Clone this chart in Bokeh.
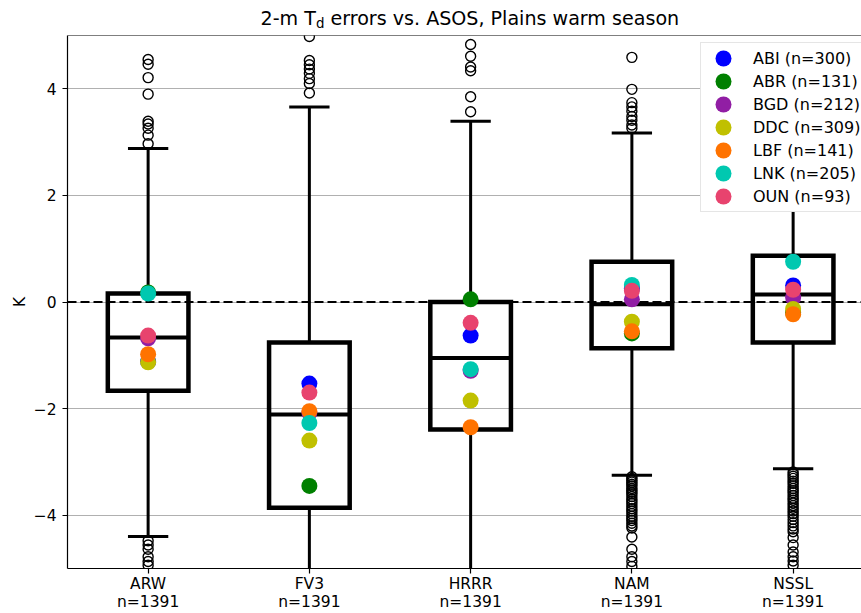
import numpy as np
from bokeh.plotting import figure
from bokeh.layouts import column
from bokeh.models import FixedTicker, Span, Range1d
from bokeh.core.properties import value
from bokeh.embed import file_html
from bokeh.resources import INLINE

# ---------------- data ----------------
models = ["ARW", "FV3", "HRRR", "NAM", "NSSL"]
model_n = [1391, 1391, 1391, 1391, 1391]

q1 = [-1.665, -3.86, -2.39, -0.87, -0.76]
median = [-0.665, -2.11, -1.05, -0.04, 0.14]
q3 = [0.16, -0.76, 0.0, 0.755, 0.87]
whisker_low = [-4.40, -5.9, -5.9, -3.25, -3.13]
whisker_high = [2.88, 3.66, 3.39, 3.17, 3.30]

outliers_arw = [4.55, 4.46, 4.21, 3.90, 3.39, 3.34, 3.26, 3.13, 2.97,
                -4.48, -4.56, -4.64, -4.78, -4.87, -4.94]
outliers_fv3 = [4.98, 4.53, 4.45, 4.37, 4.29, 4.19, 4.10, 3.92]
outliers_hrrr = [4.83, 4.61, 4.41, 4.34, 3.85, 3.57]
outliers_nam = [4.59, 3.99, 3.74, 3.66, 3.58, 3.48, 3.41, 3.32, 3.26,
                -3.28, -3.31, -3.35, -3.38, -3.42, -3.45, -3.50, -3.53, -3.57,
                -3.60, -3.65, -3.70, -3.74, -3.78, -3.83, -3.88, -3.92, -3.97,
                -4.02, -4.06, -4.10, -4.15, -4.20, -4.24, -4.41, -4.64, -4.78,
                -4.87, -4.96]
outliers_nssl = [3.60, 4.10,
                 -3.19, -3.23, -3.27, -3.31, -3.36, -3.40, -3.45, -3.50, -3.54,
                 -3.58, -3.63, -3.68, -3.72, -3.77, -3.82, -3.87, -3.92, -3.97,
                 -4.02, -4.08, -4.14, -4.20, -4.26, -4.31, -4.42, -4.56, -4.69,
                 -4.78, -4.86, -4.94]

stations = ["ABI", "ABR", "BGD", "DDC", "LBF", "LNK", "OUN"]
station_n = [300, 131, 212, 309, 141, 205, 93]
station_colors = ["#0000ff", "#008000", "#911ea4", "#c0c000",
                  "#ff7300", "#00c8b0", "#e8436e"]
abi_mean = [-1.12, -1.53, -0.63, 0.25, 0.31]
abr_mean = [0.18, -3.45, 0.05, -0.59, -0.20]
bgd_mean = [-0.68, -2.08, -1.29, 0.05, 0.08]
ddc_mean = [-1.13, -2.60, -1.85, -0.37, -0.13]
lbf_mean = [-0.98, -2.05, -2.35, -0.55, -0.23]
lnk_mean = [0.16, -2.27, -1.26, 0.32, 0.755]
oun_mean = [-0.63, -1.70, -0.39, 0.21, 0.23]
station_means = [abi_mean, abr_mean, bgd_mean, ddc_mean, lbf_mean, lnk_mean, oun_mean]

y_ticks = [-4, -2, 0, 2, 4]
y_tick_labels = ["\u22124", "\u22122", "0", "2", "4"]

title_main = "2-m T"
title_sub = "d"
title_rest = "errors vs. ASOS, Plains warm season"

FONT = "DejaVu Sans"

# ---------------- title strip (frame is aligned with main frame: 67..861) ----
head = figure(width=861, height=35, output_backend="svg", toolbar_location=None,
              x_range=Range1d(67, 861), y_range=Range1d(0, 35),
              x_axis_location=None, y_axis_location=None,
              min_border=0, title=None)
head.outline_line_color = None
head.grid.visible = False
head.text(x=[260], y=[17], text=[title_main], text_font=value(FONT),
          text_font_size="19.1px", text_color="black", text_baseline="alphabetic")
head.text(x=[315.5], y=[12.5], text=[title_sub], text_font=value(FONT),
          text_font_size="13.4px", text_color="black", text_baseline="alphabetic")
head.text(x=[330], y=[17], text=[title_rest], text_font=value(FONT),
          text_font_size="19.1px", text_color="black", text_baseline="alphabetic")

# ---------------- main figure ----------------
p = figure(width=861, height=578, output_backend="svg", toolbar_location=None,
           x_range=Range1d(0.5, 5.424), y_range=Range1d(-5, 5),
           min_border_left=67, min_border_right=0, min_border_top=0,
           min_border_bottom=45, title=None)
p.outline_line_color = None
p.background_fill_color = "white"
p.border_fill_color = "white"

xpos = np.arange(1, len(models) + 1, dtype=float)

p.xaxis.ticker = FixedTicker(ticks=list(xpos))
p.xaxis.major_label_overrides = {float(x): f"{m}\nn={n}" for x, m, n in zip(xpos, models, model_n)}
p.yaxis.ticker = FixedTicker(ticks=y_ticks)
p.yaxis.major_label_overrides = {t: s for t, s in zip(y_ticks, y_tick_labels)}
for ax in (p.xaxis, p.yaxis):
    ax.axis_line_color = "black"
    ax.axis_line_width = 1.2
    ax.major_tick_line_color = "black"
    ax.major_tick_line_width = 1.2
    ax.major_tick_out = 5
    ax.major_tick_in = 0
    ax.minor_tick_line_color = None
    ax.major_label_text_font = FONT
    ax.major_label_text_font_size = "15.5px"
    ax.major_label_text_color = "black"
p.xaxis.major_label_standoff = 1
p.xaxis.major_label_text_line_height = 1.0
p.yaxis.major_label_standoff = 6
p.yaxis.axis_label = "K"
p.yaxis.axis_label_text_font = FONT
p.yaxis.axis_label_text_font_size = "15.5px"
p.yaxis.axis_label_text_font_style = "normal"
p.yaxis.axis_label_text_color = "black"
p.yaxis.axis_label_standoff = 2

p.xgrid.visible = False
p.ygrid.ticker = FixedTicker(ticks=y_ticks)
p.ygrid.grid_line_color = "#b0b0b0"
p.ygrid.grid_line_width = 1.2

p.add_layout(Span(location=0, dimension="width", line_color="black",
                  line_width=2.2, line_dash="9 4", level="underlay"))
p.add_layout(Span(location=5, dimension="width", line_color="black",
                  line_width=1.2, level="overlay"))

box_half = 0.25
cap_half = 0.125
p.segment(xpos, q3, xpos, whisker_high, line_color="black", line_width=3)
p.segment(xpos, q1, xpos, whisker_low, line_color="black", line_width=3)
p.segment(xpos - cap_half, whisker_high, xpos + cap_half, whisker_high,
          line_color="black", line_width=3)
p.segment(xpos - cap_half, whisker_low, xpos + cap_half, whisker_low,
          line_color="black", line_width=3)
p.quad(left=xpos - box_half, right=xpos + box_half, bottom=q1, top=q3,
       fill_color=None, line_color="black", line_width=4.5, line_join="miter")
p.segment(xpos - box_half, median, xpos + box_half, median,
          line_color="black", line_width=4)

all_out = [outliers_arw, outliers_fv3, outliers_hrrr, outliers_nam, outliers_nssl]
fx, fy = [], []
for x, outs in zip(xpos, all_out):
    fx += [x] * len(outs)
    fy += outs
p.scatter(fx, fy, marker="circle", size=10, fill_color=None,
          line_color="black", line_width=1.4)

for st, n, col, vals in zip(stations, station_n, station_colors, station_means):
    p.ellipse(x=xpos, y=vals, width=16, height=16, width_units="screen",
              height_units="screen", fill_color=col, line_color=None,
              legend_label=f"{st} (n={n})")

lg = p.legend[0]
lg.location = (633, 356)
lg.glyph_width = 34
lg.glyph_height = 20
lg.label_height = 20
lg.spacing = 3
lg.padding = 5
lg.margin = 0
lg.label_standoff = 13
lg.border_line_color = "#cccccc"
lg.border_line_width = 1
lg.background_fill_alpha = 1
lg.label_text_font = FONT
lg.label_text_font_size = "16px"
lg.label_text_color = "black"

layout = column(head, p, spacing=0)
open("out.html", "w").write(file_html(layout, INLINE))
